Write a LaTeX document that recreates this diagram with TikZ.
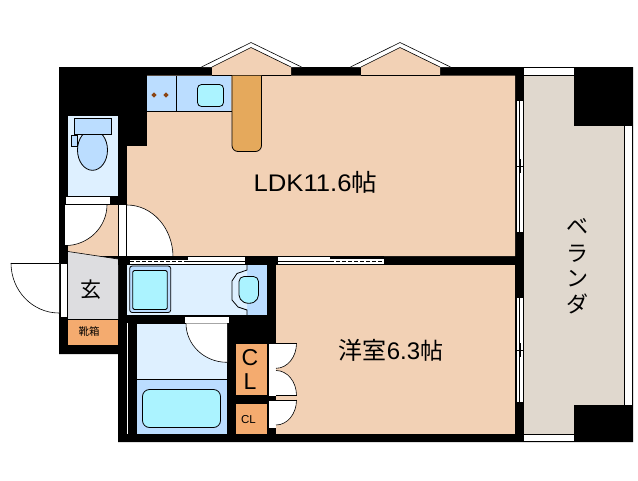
\documentclass[tikz,border=0pt]{standalone}
\usepackage{fontspec}
\setmainfont{Liberation Sans}
\newfontfamily\cjk{Noto Sans CJK JP}
\definecolor{beige}{HTML}{F2D1B5}
\definecolor{orng}{HTML}{F4AB6F}
\definecolor{cntr}{HTML}{E5A95C}
\definecolor{blue1}{HTML}{BBDDFF}
\definecolor{blue2}{HTML}{DEF0FF}
\definecolor{cyan1}{HTML}{ABF3FF}
\definecolor{grey1}{HTML}{DDDDE0}
\definecolor{balc}{HTML}{E0D8CE}
\definecolor{burn}{HTML}{8B4513}
\tikzset{
  ln/.style={draw=black,line width=0.8pt},
  thinln/.style={draw=black,line width=0.6pt},
  lbl/.style={inner sep=0pt,text=black},
}
\newcommand\qdoor[6]{%
  \fill[white] (#1,#2) -- ([shift={(#3:#5 and #6)}]#1,#2) arc[start angle=#3,end angle=#4,x radius=#5,y radius=#6] -- cycle;
  \draw[thinln] ([shift={(#3:#5 and #6)}]#1,#2) arc[start angle=#3,end angle=#4,x radius=#5,y radius=#6];
}
\newcommand\sz[1]{\fontsize{#1}{#1}\selectfont}
\newcommand\bay[1]{%
  \begin{scope}[xshift=#1pt]
  \draw[thinln,fill=white] (201.5,67) -- (251,42.5) -- (301.5,67);
  \fill[beige] (212,67) -- (251,47.5) -- (291,67) -- (291,75) -- (212,75) -- cycle;
  \draw[thinln] (212,67) -- (251,47.5) -- (291,67);
  \draw[ln] (212,75.3) -- (291,75.3);
  \end{scope}
}
\newcommand\winstrip[3]{%
  \fill[white] (515.5,#1) rectangle (524,#2);
  \draw[thinln] (515.8,#1) -- (523.6,#1) (515.8,#2) -- (523.6,#2)
     (515.8,#1) -- (515.8,#2) (519,#1) -- (519,#2) (523.6,#1) -- (523.6,#2)
     (516,#3) -- (524,#3) (520.2,#3-7) -- (520.2,#3+7);
}
\begin{document}
\begin{tikzpicture}[x=1pt,y=-1pt]
\useasboundingbox (0,0) rectangle (638,480);
\fill[white] (0,0) rectangle (638,480);
% walls
\fill[black] (59,67) -- (633,67) -- (633,442) -- (118,442) -- (118,354) -- (59,354) -- cycle;
% LDK
\fill[beige] (147,75.5) -- (515,75.5) -- (515,256) -- (127,256) -- (127,146) -- (147,146) -- cycle;
% bays
\bay{0}
\bay{149}
% kitchen
\fill[blue1] (147,76) rectangle (231,111);
\draw[ln] (147,111.2) -- (231.5,111.2) (176.3,76) -- (176.3,111);
\draw[ln,fill=cyan1,rounded corners=4pt] (197.5,84.5) rectangle (223.5,106.5);
\fill[burn] (154,92.3) -- (156.7,95) -- (154,97.7) -- (151.3,95) -- cycle;
\fill[burn] (166,92.3) -- (168.7,95) -- (166,97.7) -- (163.3,95) -- cycle;
\draw[ln,fill=cntr,rounded corners=6pt] (232,75.5) -- (232,151.5) -- (261.5,151.5) -- (261.5,75.5);
% toilet
\fill[blue2] (68,116) rectangle (118,196);
\draw[ln,fill=blue1] (92.5,150) ellipse (15 and 20.3);
\draw[ln,fill=blue1] (74.5,118.5) rectangle (111.5,134.5);
\draw[ln,fill=blue1] (71.5,135.3) rectangle (77.5,146.5);
% hall
\fill[beige] (68,204) rectangle (118,256);
\fill[white] (65,196) rectangle (110,204);
\draw[thinln] (65,196.3) -- (110,196.3) (65,204.6) -- (118,204.6) (65,196) -- (65,250);
\qdoor{65}{204.6}{0}{90}{42}{41}
\draw[thinln] (65,204.6) -- (107,204.6);
% entry
\fill[grey1] (68,251.5) -- (118,259) -- (118,319) -- (68,319) -- cycle;
\draw[thinln] (68,251.5) -- (118,259);
\fill[black] (59,245) rectangle (68,263);
\fill[orng] (68,319) rectangle (118,345);
\draw[thinln] (68,319) -- (118,319);
\fill[white] (60,263) rectangle (67.5,317);
\draw[thinln] (60,263.3) -- (67.5,263.3) (60,317) -- (67.5,317) (60,263) -- (60,317) (67.5,263) -- (67.5,317);
\qdoor{59}{263}{90}{180}{48}{50}
\draw[thinln] (11,263) -- (59,263);
% LDK door
\fill[white] (118.3,204) rectangle (126.7,256);
\draw[thinln] (118.4,204) -- (118.4,256) (126.6,204) -- (126.6,256) (118.4,204.3) -- (126.6,204.3);
\qdoor{127}{257}{270}{360}{46}{52}
% wall band between LDK and wet rooms
\fill[black] (118,256) rectangle (278,265);
\fill[white] (130,259.5) rectangle (245,264.8);
\draw[thinln] (130,263.9) -- (245,263.9);
\draw[thinln,dashed,dash pattern=on 4pt off 2pt] (130,260.9) -- (188,260.9);
\fill[white] (188,256.5) rectangle (245,260.5);
\draw[thinln] (188,256.3) -- (245,256.3) (188,260.9) -- (245,260.9);
\fill[white] (278,256.5) rectangle (384,264.8);
\draw[thinln] (278,256.3) -- (330,256.3) (278,263.9) -- (384,263.9);
\fill[black] (330,256) rectangle (384,259.4);
\draw[thinln,dashed,dash pattern=on 4pt off 2pt] (330,260.9) -- (384,260.9);
\draw[thinln] (278,260.9) -- (330,260.9);
% wash room
\fill[blue2] (127,265) rectangle (267,315);
\fill[blue1] (247,265) rectangle (267,315);
\draw[ln,fill=blue2] (247,265) -- (247,270) -- (237,273.5) -- (232,281) -- (232,300) -- (238,307) -- (247,310) -- (247,315);
\draw[ln,fill=cyan1,rounded corners=5pt] (239,276.5) -- (258.5,276.5) -- (258.5,300) -- (249,304.5) -- (239,300) -- cycle;
\draw[ln,fill=blue1,rounded corners=2.5pt] (129.7,266) rectangle (170.7,312.5);
\draw[ln,fill=cyan1,rounded corners=1.5pt] (132.7,270.5) rectangle (167.3,309.5);
% bath room
\fill[blue2] (137,323.5) rectangle (227,379);
\fill[blue1] (137,379) rectangle (227,434);
\draw[ln] (137,379.2) -- (227,379.2);
\draw[ln,fill=cyan1,rounded corners=7pt] (142.5,389.5) rectangle (220.5,427.5);
\fill[white] (185,315.5) rectangle (229,323);
\draw[thinln] (185,315.8) -- (229,315.8) (185,323.3) -- (229,323.3) (229,315.5) -- (229,323.5);
\qdoor{227}{323.3}{90}{180}{41}{39}
\fill[white] (127,323) rectangle (128.2,434);
% closets
\fill[orng] (236,344) rectangle (267,395);
\fill[orng] (236,404) rectangle (267,434);
\fill[white] (268,343) rectangle (276,396);
\fill[white] (268,400) rectangle (276,428);
\draw[thinln] (268,343) rectangle (276,396);
\draw[thinln] (268,400) rectangle (276,428);
\fill[beige] (276,265) rectangle (515,434);
\qdoor{276}{343.3}{0}{90}{20.5}{25}
\qdoor{276}{395.5}{270}{360}{20.5}{25}
\qdoor{276}{400}{0}{90}{20.5}{25}
\draw[thinln] (276,343.3) -- (296.5,343.3) (276,395.5) -- (296.5,395.5) (276,400) -- (296.5,400);
% balcony
\fill[balc] (524,75) rectangle (574,434);
\fill[balc] (574,126) rectangle (624,405);
\fill[white] (524,67.5) rectangle (574,75);
\draw[thinln] (524,67.5) -- (574,67.5) (524,75) -- (574,75);
\fill[white] (524,434) rectangle (574,441.5);
\draw[thinln] (524,434.2) -- (574,434.2) (524,441.5) -- (574,441.5);
\fill[white] (624.5,126) rectangle (632.5,405);
\draw[thinln] (624.5,126) -- (624.5,405) (632.4,126) -- (632.4,405);
\winstrip{100}{232}{166}
\winstrip{297}{402.5}{350}
% labels
\node[lbl,font=\sz{24},xscale=1.07,transform shape] (ldk) at (315.5,182) {LDK11.6{\cjk 帖}};
\node[lbl,font=\sz{24}] (yo) at (391,350) {{\cjk\sz{24}洋室}6.3{\cjk\sz{23}帖}};
\node[lbl,font=\cjk\sz{21}] (gen) at (91,290) {玄};
\node[lbl,font=\cjk\sz{10.5}] (kutsu) at (89,331) {靴箱};
\node[lbl,font=\sz{23}] (c1) at (250,358) {C};
\node[lbl,font=\sz{23}] (l1) at (250,382) {L};
\node[lbl,font=\sz{11.5}] (c2) at (248.5,420) {CL};
\node[lbl,font=\cjk\sz{22}] (b1) at (577,226) {ベ};
\node[lbl,font=\cjk\sz{22}] (b2) at (577,254) {ラ};
\node[lbl,font=\cjk\sz{22}] (b3) at (577,279) {ン};
\node[lbl,font=\cjk\sz{22}] (b4) at (577,304) {ダ};
\end{tikzpicture}
\end{document}
